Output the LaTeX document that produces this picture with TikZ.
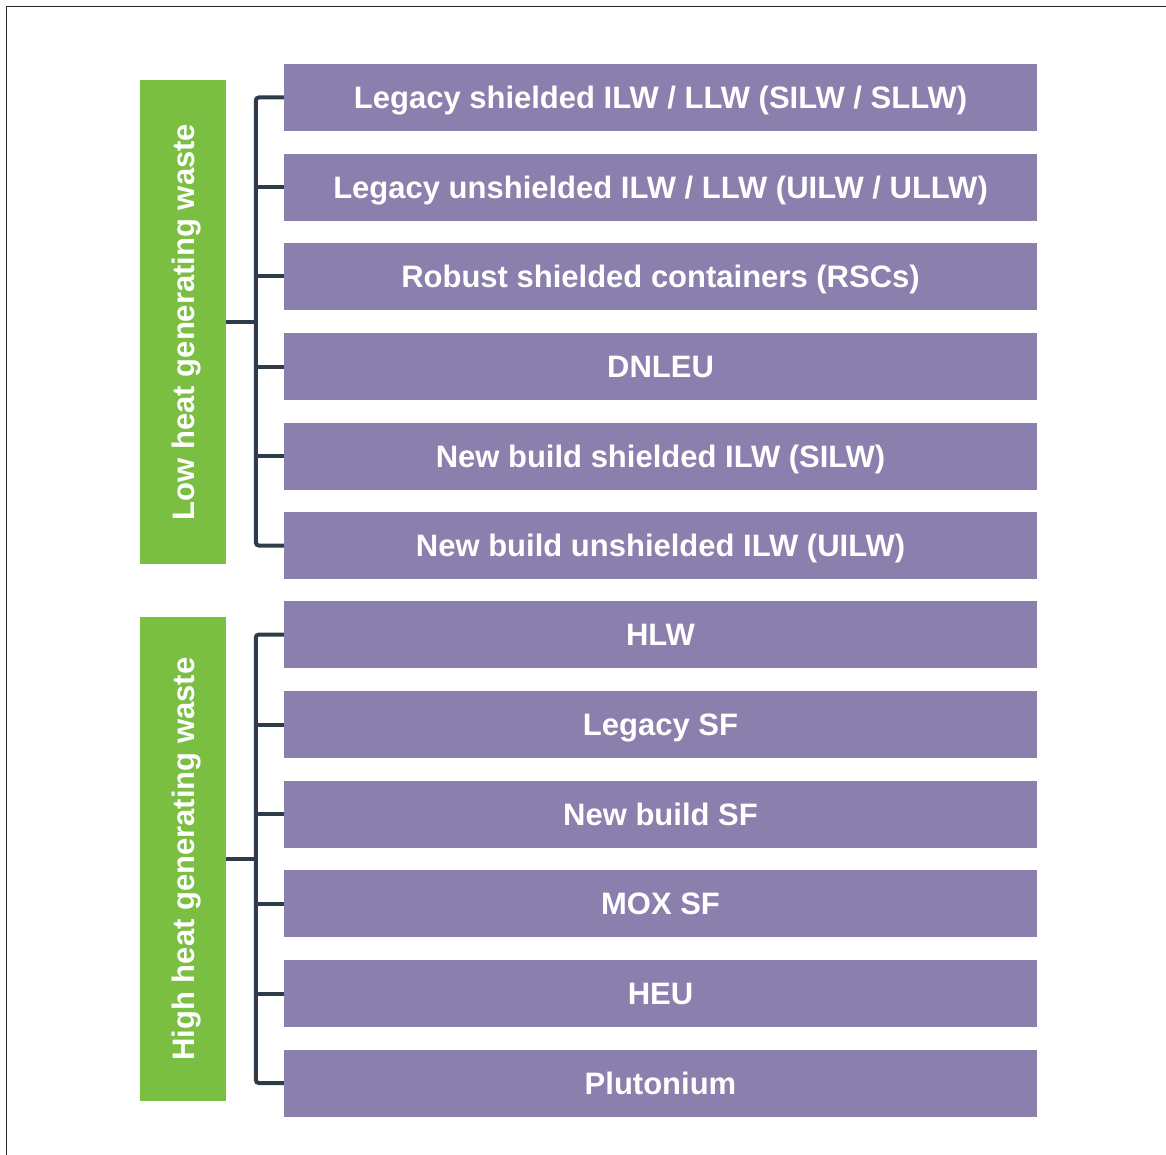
\documentclass[tikz,border=0pt]{standalone}
\usepackage{fontspec}
\setmainfont{Liberation Sans}
\definecolor{boxpurple}{RGB}{139,127,173}
\definecolor{boxgreen}{RGB}{123,191,66}
\definecolor{linedark}{RGB}{46,60,74}
\definecolor{framegray}{RGB}{40,40,40}
\begin{document}
\begin{tikzpicture}[x=1pt,y=-1pt,
  item/.style={fill=boxpurple, draw=none, minimum width=753pt, minimum height=67pt, inner sep=0pt,
    text=white, font=\fontsize{31}{36}\selectfont\bfseries, anchor=center,
    text height=22.3pt, text depth=0pt},
  group/.style={fill=boxgreen, draw=none, minimum width=484pt, minimum height=86pt, inner sep=0pt,
    text=white, font=\fontsize{31}{36}\selectfont\bfseries, rotate=90,
    text height=22.3pt, text depth=0pt},
  conn/.style={draw=linedark, line width=4pt, rounded corners=3pt}]
\useasboundingbox (0,0) rectangle (1166,1155);
\fill[white] (0,0) rectangle (1166,1155);
\draw[framegray, line width=1.8pt] (6.5,1155) -- (6.5,6.5) -- (1166,6.5);

\node[group] (g1) at (183,322) {Low heat generating waste};
\node[group] (g2) at (183,859) {High heat generating waste};

\node[item] (r1) at (660.5,97.5) {Legacy shielded ILW / LLW (SILW / SLLW)};
\node[item] (r2) at (660.5,187.5) {Legacy unshielded ILW / LLW (UILW / ULLW)};
\node[item] (r3) at (660.5,276.5) {Robust shielded containers (RSCs)};
\node[item] (r4) at (660.5,366.5) {DNLEU};
\node[item] (r5) at (660.5,456) {New build shielded ILW (SILW)};
\node[item] (r6) at (660.5,545.5) {New build unshielded ILW (UILW)};
\node[item] (r7) at (660.5,634.5) {HLW};
\node[item] (r8) at (660.5,724.5) {Legacy SF};
\node[item] (r9) at (660.5,814) {New build SF};
\node[item] (r10) at (660.5,903.5) {MOX SF};
\node[item] (r11) at (660.5,993.5) {HEU};
\node[item] (r12) at (660.5,1083) {Plutonium};

\draw[conn] (r1.west) -- ++(-28,0) |- (r6.west);
\foreach \r in {r2,r3,r4,r5} \draw[conn] (\r.west) -- ++(-30,0);
\draw[conn] (g1.south) -- ++(32,0);

\draw[conn] (r7.west) -- ++(-28,0) |- (r12.west);
\foreach \r in {r8,r9,r10,r11} \draw[conn] (\r.west) -- ++(-30,0);
\draw[conn] (g2.south) -- ++(32,0);
\end{tikzpicture}
\end{document}
